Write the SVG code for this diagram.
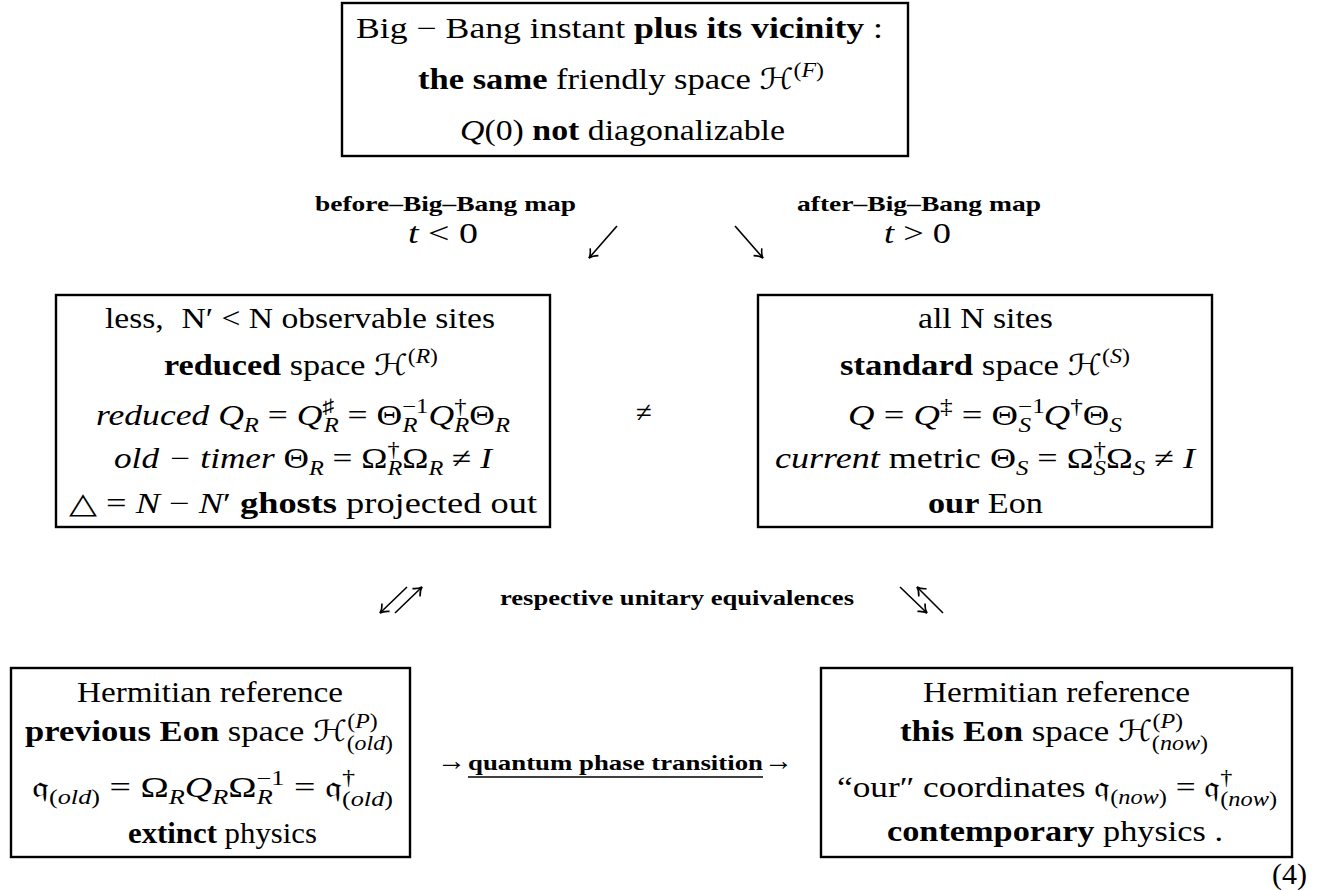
<svg xmlns="http://www.w3.org/2000/svg" width="1328" height="890" viewBox="0 0 1328 890">
<defs>
<style>
.t{font-family:"Liberation Serif","DejaVu Serif",serif;font-size:29px;fill:#000}
.b{font-weight:bold}
.i{font-style:italic}
.s{font-size:20px}
.lbl{font-family:"Liberation Serif","DejaVu Serif",serif;font-size:21px;font-weight:bold;fill:#000}
.cal{font-family:"DejaVu Serif","DejaVu Sans",serif;font-style:normal}
.fr{font-family:"DejaVu Sans","Noto Sans","DejaVu Serif",sans-serif;font-style:normal}
.box{fill:#fff;stroke:#000;stroke-width:2.4}
.con{fill:none;stroke:#000;stroke-width:1.6}
</style>
<marker id="ah" markerWidth="14" markerHeight="14" refX="10" refY="7" orient="auto" markerUnits="userSpaceOnUse">
<path d="M2,1.5 Q6,6 10,7 Q6,8 2,12.5" fill="none" stroke="#000" stroke-width="1.6"/>
</marker>
</defs>
<rect width="1328" height="890" fill="#fff"/>

<g id="node-bigbang">
<rect class="box" x="342" y="3" width="566" height="153"/>
<text class="t" x="356" y="38" textLength="527" lengthAdjust="spacingAndGlyphs">Big − Bang instant <tspan class="b">plus its vicinity</tspan> :</text>
<text class="t" x="418" y="89" textLength="406" lengthAdjust="spacingAndGlyphs"><tspan class="b">the same</tspan> friendly space <tspan class="cal">ℋ</tspan><tspan class="s" dy="-12">(<tspan class="i">F</tspan>)</tspan></text>
<text class="t" x="460" y="140" textLength="325" lengthAdjust="spacingAndGlyphs"><tspan class="i">Q</tspan>(0) <tspan class="b">not</tspan> diagonalizable</text>
</g>

<g id="node-reduced">
<rect class="box" x="56" y="295" width="494" height="232"/>
<text class="t" x="105" y="328" textLength="390" lengthAdjust="spacingAndGlyphs">less, <tspan dx="8">N′</tspan> &lt; N observable sites</text>
<text class="t" x="164" y="375" textLength="274" lengthAdjust="spacingAndGlyphs"><tspan class="b">reduced</tspan> space <tspan class="cal">ℋ</tspan><tspan class="s" dy="-12">(<tspan class="i">R</tspan>)</tspan></text>
<text class="t" x="96" y="425" textLength="414" lengthAdjust="spacingAndGlyphs"><tspan class="i">reduced Q</tspan><tspan class="s i" dy="7">R</tspan><tspan dy="-7"> = </tspan><tspan class="i">Q</tspan><tspan class="s" dy="-12">♯</tspan><tspan class="s i" dx="-9" dy="19">R</tspan><tspan dy="-7"> = Θ</tspan><tspan class="s" dy="-12">−1</tspan><tspan class="s i" dx="-21" dy="19">R</tspan><tspan class="i" dx="9" dy="-7">Q</tspan><tspan class="s" dy="-12">†</tspan><tspan class="s i" dx="-10" dy="19">R</tspan><tspan dy="-7">Θ</tspan><tspan class="s i" dy="7">R</tspan></text>
<text class="t" x="114" y="468" textLength="378" lengthAdjust="spacingAndGlyphs"><tspan class="i">old − timer</tspan> Θ<tspan class="s i" dy="7">R</tspan><tspan dy="-7"> = Ω</tspan><tspan class="s" dy="-12">†</tspan><tspan class="s i" dx="-10" dy="19">R</tspan><tspan dy="-7">Ω</tspan><tspan class="s i" dy="7">R</tspan><tspan dy="-7"> ≠ </tspan><tspan class="i">I</tspan></text>
<text class="t" x="69" y="513" textLength="468" lengthAdjust="spacingAndGlyphs">△ = <tspan class="i">N</tspan> − <tspan class="i">N</tspan>′ <tspan class="b">ghosts</tspan> projected out</text>
</g>

<g id="node-neq">
<text class="t" x="644" y="422" text-anchor="middle">≠</text>
</g>

<g id="node-standard">
<rect class="box" x="758" y="295" width="454" height="232"/>
<text class="t" x="918" y="328" textLength="135" lengthAdjust="spacingAndGlyphs">all N sites</text>
<text class="t" x="840" y="375" textLength="290" lengthAdjust="spacingAndGlyphs"><tspan class="b">standard</tspan> space <tspan class="cal">ℋ</tspan><tspan class="s" dy="-12">(<tspan class="i">S</tspan>)</tspan></text>
<text class="t" x="848" y="425" textLength="274" lengthAdjust="spacingAndGlyphs"><tspan class="i">Q</tspan> = <tspan class="i">Q</tspan><tspan class="s" dy="-12">‡</tspan><tspan dy="12"> = Θ</tspan><tspan class="s" dy="-12">−1</tspan><tspan class="s i" dx="-21" dy="19">S</tspan><tspan class="i" dx="10" dy="-7">Q</tspan><tspan class="s" dy="-12">†</tspan><tspan dy="12">Θ</tspan><tspan class="s i" dy="7">S</tspan></text>
<text class="t" x="775" y="468" textLength="420" lengthAdjust="spacingAndGlyphs"><tspan class="i">current</tspan> metric Θ<tspan class="s i" dy="7">S</tspan><tspan dy="-7"> = Ω</tspan><tspan class="s" dy="-12">†</tspan><tspan class="s i" dx="-10" dy="19">S</tspan><tspan dy="-7">Ω</tspan><tspan class="s i" dy="7">S</tspan><tspan dy="-7"> ≠ </tspan><tspan class="i">I</tspan></text>
<text class="t" x="928" y="513" textLength="115" lengthAdjust="spacingAndGlyphs"><tspan class="b">our</tspan> Eon</text>
</g>

<g id="node-old">
<rect class="box" x="11" y="668" width="399" height="189"/>
<text class="t" x="77" y="702" textLength="266" lengthAdjust="spacingAndGlyphs">Hermitian reference</text>
<text class="t" x="25" y="741" textLength="368" lengthAdjust="spacingAndGlyphs"><tspan class="b">previous Eon</tspan> space <tspan class="cal">ℋ</tspan><tspan class="s" dy="-13">(<tspan class="i">P</tspan>)</tspan><tspan class="s" dx="-26" dy="22">(<tspan class="i">old</tspan>)</tspan></text>
<text class="t" x="32" y="797" textLength="361" lengthAdjust="spacingAndGlyphs"><tspan class="fr">𝔮</tspan><tspan class="s" dy="7">(<tspan class="i">old</tspan>)</tspan><tspan dy="-7"> = Ω</tspan><tspan class="s i" dy="7">R</tspan><tspan class="i" dy="-7">Q</tspan><tspan class="s i" dy="7">R</tspan><tspan dy="-7">Ω</tspan><tspan class="s" dy="-12">−1</tspan><tspan class="s i" dx="-21" dy="19">R</tspan><tspan dx="9" dy="-7"> = </tspan><tspan class="fr">𝔮</tspan><tspan class="s" dy="-13">†</tspan><tspan class="s" dx="-10" dy="22">(<tspan class="i">old</tspan>)</tspan></text>
<text class="t" x="128" y="843" textLength="189" lengthAdjust="spacingAndGlyphs"><tspan class="b">extinct</tspan> physics</text>
</g>

<g id="node-now">
<rect class="box" x="821" y="668" width="471" height="189"/>
<text class="t" x="923" y="702" textLength="267" lengthAdjust="spacingAndGlyphs">Hermitian reference</text>
<text class="t" x="900" y="741" textLength="308" lengthAdjust="spacingAndGlyphs"><tspan class="b">this Eon</tspan> space <tspan class="cal">ℋ</tspan><tspan class="s" dy="-13">(<tspan class="i">P</tspan>)</tspan><tspan class="s" dx="-26" dy="22">(<tspan class="i">now</tspan>)</tspan></text>
<text class="t" x="837" y="797" textLength="440" lengthAdjust="spacingAndGlyphs">“our″ coordinates <tspan class="fr">𝔮</tspan><tspan class="s" dy="7">(<tspan class="i">now</tspan>)</tspan><tspan dy="-7"> = </tspan><tspan class="fr">𝔮</tspan><tspan class="s" dy="-13">†</tspan><tspan class="s" dx="-10" dy="22">(<tspan class="i">now</tspan>)</tspan></text>
<text class="t" x="887" y="841" textLength="336" lengthAdjust="spacingAndGlyphs"><tspan class="b">contemporary</tspan> physics .</text>
</g>

<g id="connectors">
<path class="con" d="M617,226 L589,258" marker-end="url(#ah)"/>
<path class="con" d="M735,226 L763,258" marker-end="url(#ah)"/>
<path class="con" d="M407,587 L380,613" marker-end="url(#ah)"/>
<path class="con" d="M395,613 L422,587" marker-end="url(#ah)"/>
<path class="con" d="M900,587 L927,613" marker-end="url(#ah)"/>
<path class="con" d="M943,613 L917,587" marker-end="url(#ah)"/>
<text class="t" x="437" y="770">→</text>
<text class="t" x="764" y="770">→</text>
<line x1="468" y1="777" x2="763" y2="777" stroke="#000" stroke-width="1.3"/>
</g>

<g id="labels">
<text class="lbl" x="315" y="211" textLength="261" lengthAdjust="spacingAndGlyphs">before–Big–Bang map</text>
<text class="t" x="408" y="243" textLength="70" lengthAdjust="spacingAndGlyphs"><tspan class="i">t</tspan> &lt; 0</text>
<text class="lbl" x="797" y="211" textLength="244" lengthAdjust="spacingAndGlyphs">after–Big–Bang map</text>
<text class="t" x="884" y="243" textLength="67" lengthAdjust="spacingAndGlyphs"><tspan class="i">t</tspan> &gt; 0</text>
<text class="lbl" x="500" y="605" textLength="354" lengthAdjust="spacingAndGlyphs">respective unitary equivalences</text>
<text class="lbl" x="468" y="770" textLength="295" lengthAdjust="spacingAndGlyphs">quantum phase transition</text>
<text class="t" x="1272" y="884" textLength="35" lengthAdjust="spacingAndGlyphs">(4)</text>
</g>
</svg>
